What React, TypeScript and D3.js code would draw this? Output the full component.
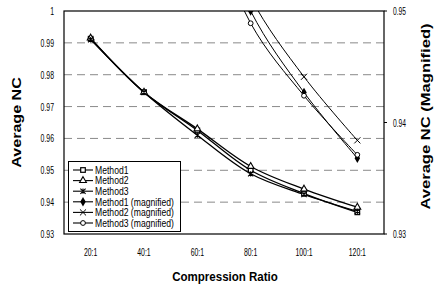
import { useEffect, useRef } from "react";
import * as d3 from "d3";

const ratios = [20, 40, 60, 80, 100, 120];
const ratioLabels = ["20:1", "40:1", "60:1", "80:1", "100:1", "120:1"];
const method1 = [0.9913, 0.9745, 0.9625, 0.95, 0.9427, 0.9368];
const method2 = [0.9915, 0.9745, 0.963, 0.9512, 0.9441, 0.9384];
const method3 = [0.991, 0.9745, 0.961, 0.9489, 0.9424, 0.9371];
const leftTicks = [0.93, 0.94, 0.95, 0.96, 0.97, 0.98, 0.99, 1];
const leftTickLabels = ["0.93", "0.94", "0.95", "0.96", "0.97", "0.98", "0.99", "1"];
const gridTicks = [0.94, 0.95, 0.96, 0.97, 0.98, 0.99];
const rightTicks = [0.93, 0.94, 0.95];
const rightTickLabels = ["0.93", "0.94", "0.95"];
const seriesNames = [
  "Method1",
  "Method2",
  "Method3",
  "Method1 (magnified)",
  "Method2 (magnified)",
  "Method3 (magnified)",
];
const markers = ["square", "triangle", "asterisk", "diamond", "times", "circle"];

const FONT = "'Liberation Sans', Arial, sans-serif";

function drawMarker(g: any, kind: string, x: number, y: number) {
  if (kind === "square") {
    g.append("rect")
      .attr("x", x - 2.3)
      .attr("y", y - 2.3)
      .attr("width", 4.6)
      .attr("height", 4.6)
      .attr("fill", "#fff")
      .attr("stroke", "#000")
      .attr("stroke-width", 1.2);
  } else if (kind === "triangle") {
    g.append("path")
      .attr("transform", `translate(${x},${y})`)
      .attr("d", d3.symbol(d3.symbolTriangle, 20)())
      .attr("fill", "#fff")
      .attr("stroke", "#000")
      .attr("stroke-width", 1.1);
  } else if (kind === "asterisk") {
    const s = 2.6;
    g.append("path")
      .attr(
        "d",
        `M${x - s},${y - s}L${x + s},${y + s}M${x - s},${y + s}L${x + s},${y - s}M${x},${y - s}L${x},${y + s}`
      )
      .attr("stroke", "#000")
      .attr("stroke-width", 1.1)
      .attr("fill", "none");
  } else if (kind === "diamond") {
    g.append("path")
      .attr("transform", `translate(${x},${y})`)
      .attr("d", d3.symbol(d3.symbolDiamond, 26)())
      .attr("fill", "#000");
  } else if (kind === "times") {
    g.append("path")
      .attr("transform", `translate(${x},${y})`)
      .attr("d", d3.symbol(d3.symbolTimes, 26)())
      .attr("fill", "none")
      .attr("stroke", "#000")
      .attr("stroke-width", 1);
  } else {
    g.append("circle")
      .attr("cx", x)
      .attr("cy", y)
      .attr("r", 2.4)
      .attr("fill", "#fff")
      .attr("stroke", "#000")
      .attr("stroke-width", 1);
  }
}

function squeezedText(
  g: any,
  x: number,
  y: number,
  str: string,
  opts: { size: number; sx: number; anchor: string; bold?: boolean; rotate?: number }
) {
  g.append("text")
    .attr("transform", `translate(${x},${y}) rotate(${opts.rotate || 0}) scale(${opts.sx},1)`)
    .attr("text-anchor", opts.anchor)
    .attr("font-family", FONT)
    .attr("font-size", opts.size)
    .attr("font-weight", opts.bold ? "bold" : "normal")
    .attr("fill", "#000")
    .text(str);
}

export default function App() {
  const ref = useRef<SVGSVGElement>(null);

  useEffect(() => {
    document.body.style.margin = "0";
    if (!ref.current) return;
    const svg = d3.select(ref.current);
    svg.selectAll("*").remove();

    const left = 64, right = 384, top = 11, bottom = 234;

    const x = d3.scaleLinear().domain([10, 130]).range([left, right]);
    const yL = d3.scaleLinear().domain([0.93, 1]).range([bottom, top]);
    const yR = d3.scaleLinear().domain([0.93, 0.95]).range([bottom, top]);

    svg.append("rect").attr("width", 439).attr("height", 288).attr("fill", "#fff");

    svg
      .append("defs")
      .append("clipPath")
      .attr("id", "plotclip")
      .append("rect")
      .attr("x", left)
      .attr("y", top)
      .attr("width", right - left)
      .attr("height", bottom - top);

    // gridlines
    svg
      .append("g")
      .selectAll("line")
      .data(gridTicks)
      .enter()
      .append("line")
      .attr("x1", left)
      .attr("x2", right)
      .attr("y1", (d) => yL(d))
      .attr("y2", (d) => yL(d))
      .attr("stroke", "#8a8a8a")
      .attr("stroke-width", 1)
      .attr("stroke-dasharray", "8,5");

    const line = (scale: any) =>
      d3
        .line<number>()
        .x((_, i) => x(ratios[i]))
        .y((d) => scale(d))
        .curve(d3.curveCatmullRom.alpha(0.5));

    const series = [method1, method2, method3];

    // magnified (secondary axis) lines, clipped to plot
    const mag = svg.append("g").attr("clip-path", "url(#plotclip)");
    series.forEach((vals, k) => {
      mag
        .append("path")
        .attr("d", line(yR)(vals))
        .attr("fill", "none")
        .attr("stroke", "#000")
        .attr("stroke-width", 1);
      vals.forEach((v, i) => drawMarker(mag, markers[k + 3], x(ratios[i]), yR(v)));
    });

    // main lines
    const main = svg.append("g");
    series.forEach((vals) => {
      main
        .append("path")
        .attr("d", line(yL)(vals))
        .attr("fill", "none")
        .attr("stroke", "#000")
        .attr("stroke-width", 1.3);
    });
    series.forEach((vals, k) => {
      vals.forEach((v, i) => drawMarker(main, markers[k], x(ratios[i]), yL(v)));
    });

    // frame
    svg
      .append("rect")
      .attr("x", left)
      .attr("y", top)
      .attr("width", right - left)
      .attr("height", bottom - top)
      .attr("fill", "none")
      .attr("stroke", "#000")
      .attr("stroke-width", 1.2);

    const labels = svg.append("g");
    leftTicks.forEach((t, i) =>
      squeezedText(labels, 54, yL(t) + 4, leftTickLabels[i], { size: 11.5, sx: 0.6, anchor: "end" })
    );
    rightTicks.forEach((t, i) => {
      labels
        .append("line")
        .attr("x1", right)
        .attr("x2", right + 3)
        .attr("y1", yR(t))
        .attr("y2", yR(t))
        .attr("stroke", "#000");
      squeezedText(labels, 393, yR(t) + 4, rightTickLabels[i], { size: 11.5, sx: 0.58, anchor: "start" });
    });
    ratios.forEach((r, i) =>
      squeezedText(labels, x(r), 256, ratioLabels[i], { size: 11.5, sx: 0.6, anchor: "middle" })
    );

    squeezedText(labels, 225, 281, "Compression Ratio", { size: 12, sx: 0.96, anchor: "middle", bold: true });
    squeezedText(labels, 21, 122.5, "Average NC", { size: 12, sx: 1.34, anchor: "middle", bold: true, rotate: -90 });
    squeezedText(labels, 430, 116.5, "Average NC (Magnified)", {
      size: 12,
      sx: 1.38,
      anchor: "middle",
      bold: true,
      rotate: -90,
    });

    // legend
    const lg = svg.append("g");
    lg.append("rect")
      .attr("x", 68.5)
      .attr("y", 161.5)
      .attr("width", 112)
      .attr("height", 70)
      .attr("fill", "#fff")
      .attr("stroke", "#000")
      .attr("stroke-width", 1);
    seriesNames.forEach((name, i) => {
      const cy = 170 + i * 10.6;
      lg.append("line")
        .attr("x1", 73)
        .attr("x2", 93)
        .attr("y1", cy)
        .attr("y2", cy)
        .attr("stroke", "#000")
        .attr("stroke-width", 1.1);
      drawMarker(lg, markers[i], 83, cy);
      squeezedText(lg, 95, cy + 3.8, name, { size: 10.5, sx: 0.82, anchor: "start" });
    });
  }, []);

  return <svg ref={ref} width={439} height={288} style={{ display: "block" }} />;
}
